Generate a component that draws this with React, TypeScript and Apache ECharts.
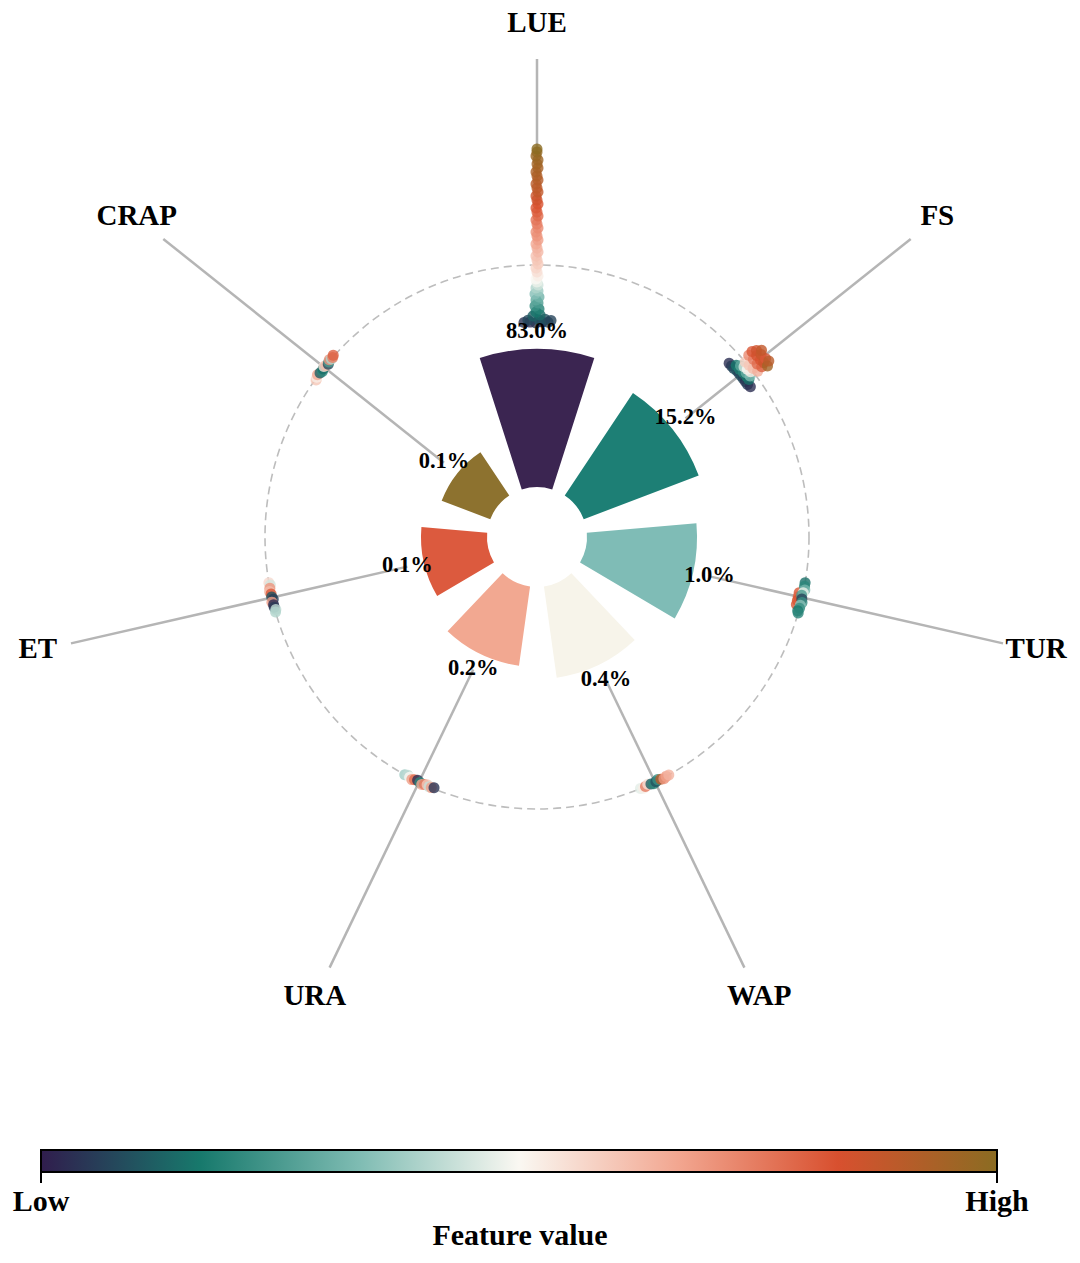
import React, { useEffect, useRef } from "react";
import * as echarts from "echarts";

// ---------------- data ----------------
const CATEGORIES = ["LUE", "FS", "TUR", "WAP", "URA", "ET", "CRAP"];
// radial bar lengths (display units, measured from the inner hole)
const BAR_LENGTHS = [138, 123, 110, 92, 80, 66, 52];
const PCT_LABELS = ["83.0%", "15.2%", "1.0%", "0.4%", "0.2%", "0.1%", "0.1%"];
const BAR_COLORS = ["#3b2551", "#1d7f75", "#7fbcb6", "#f7f4ea", "#f2a891", "#dc5a3e", "#8d722f"];
const CMAP = ["#301d4d", "#17796c", "#7fbcb3", "#faf8f2", "#f2a690", "#d8502f", "#8b6c22"];

// swarm points: [radial SHAP offset, feature value (0..1), tangential jitter]
const SWARM_LUE = [
  [-57, 0.04, -13], [-57, 0.02, -7], [-58, 0.05, -1], [-57, 0.03, 5], [-57, 0.06, 11],
  [-55, 0.08, -9], [-55, 0.1, 2], [-54, 0.09, 8], [-55, 0.07, 14],
  [-51, 0.12, -4], [-50, 0.14, 3], [-47, 0.16, -1], [-44, 0.19, 2], [-41, 0.22, -2],
  [-38, 0.25, 1], [-35, 0.28, -1], [-32, 0.31, 2], [-29, 0.34, -2], [-26, 0.37, 1],
  [-23, 0.4, -1], [-20, 0.44, 1], [-17, 0.48, 0], [-14, 0.5, -1], [-11, 0.52, 1],
  [-7, 0.55, 0], [-3, 0.57, -1], [1, 0.59, 1], [5, 0.6, 0], [9, 0.61, -1], [13, 0.63, 1],
  [17, 0.64, 0], [21, 0.66, -1], [25, 0.68, 1], [29, 0.7, 0], [33, 0.71, -1], [37, 0.72, 1],
  [41, 0.74, 0], [45, 0.76, -1], [49, 0.78, 1], [53, 0.8, 0], [57, 0.82, -1], [61, 0.83, 1],
  [65, 0.85, 0], [69, 0.86, -1], [73, 0.88, 1], [77, 0.89, 0], [81, 0.9, -1], [85, 0.91, 1],
  [89, 0.92, 0], [93, 0.93, -1], [97, 0.94, 1], [101, 0.95, 0], [105, 0.96, 1],
  [109, 0.97, -1], [113, 0.98, 0], [116, 1.0, 0],
];
const SWARM_FS = [
  [-13, 0.03, -16], [-13, 0.05, -12.5], [-13, 0.08, -9], [-12, 0.1, -5.5], [-12, 0.06, -2],
  [-12, 0.09, 1.5], [-12, 0.07, 5], [-12, 0.04, 8.5], [-12, 0.06, 12], [-11, 0.03, 15.5],
  [-9, 0.16, -10], [-9, 0.18, -5], [-8, 0.2, 0], [-8, 0.17, 5], [-8, 0.15, 9],
  [-6, 0.28, -7], [-6, 0.3, 2], [-5, 0.33, 7],
  [-4, 0.45, -4], [-3, 0.5, 0], [-2, 0.52, 4],
  [0, 0.58, -7], [1, 0.6, -2], [2, 0.62, 3], [4, 0.65, 8],
  [7, 0.72, -10], [8, 0.75, -4], [8, 0.78, 2], [10, 0.8, 7], [12, 0.82, -11],
  [13, 0.84, -5], [13, 0.83, 1], [14, 0.86, 5], [16, 0.85, -9], [17, 0.87, -3],
  [18, 0.82, 3], [15, 0.95, 10], [19, 0.9, 7], [20, 0.88, -6],
];
const SWARM_TUR = [
  [-4, 0.82, -4], [-4, 0.8, 0], [-4, 0.84, 4], [-4, 0.82, 8],
  [0, 0.15, -15], [0, 0.2, -11.5], [1, 0.32, -8], [0, 0.48, -5], [-1, 0.25, -2],
  [0, 0.07, 1.5], [1, 0.22, 5], [0, 0.35, 8], [0, 0.22, 11], [-1, 0.17, 14], [0, 0.2, 16],
];
const SWARM_WAP = [
  [0, 0.47, 16], [1, 0.52, 13], [0, 0.75, 10.5], [-1, 0.55, 7.5], [0, 0.12, 4.5],
  [1, 0.2, 2], [0, 0.1, -1], [-1, 0.22, -3.5], [0, 0.9, -6.5], [1, 0.7, -9.5],
  [0, 0.68, -12.5], [0, 0.64, -15.5],
];
const SWARM_URA = [
  [0, 0.38, 16], [-1, 0.42, 13], [0, 0.5, 10.5], [1, 0.68, 7.5], [0, 0.78, 5],
  [-1, 0.03, 2], [0, 0.2, -1], [1, 0.66, -3.5], [0, 0.75, -6], [-1, 0.6, -8.5],
  [0, 0.43, -11], [0, 0.68, -13.5], [-1, 0.04, -16],
];
const SWARM_ET = [
  [0, 0.56, 15], [-1, 0.45, 12.5], [0, 0.7, 9.5], [1, 0.62, 6.5], [0, 0.82, 3.5],
  [0, 0.1, 0.5], [-1, 0.06, -2], [1, 0.68, -4.5], [0, 0.03, -7.5], [0, 0.05, -10],
  [-1, 0.42, -12.5], [0, 0.4, -15],
];
const SWARM_CRAP = [
  [-1, 0.6, -15], [0, 0.52, -12.5], [1, 0.66, -10], [0, 0.12, -7], [-1, 0.2, -4.5],
  [0, 0.15, -2], [1, 0.55, 0.5], [0, 0.62, 2.5], [-1, 0.08, 5], [0, 0.25, 7],
  [1, 0.7, 9], [0, 0.4, 11], [0, 0.74, 13], [1, 0.8, 15],
];
const SWARMS = [SWARM_LUE, SWARM_FS, SWARM_TUR, SWARM_WAP, SWARM_URA, SWARM_ET, SWARM_CRAP];

// ---------------- layout ----------------
const W = 1080;
const H = 1263;
const CENTER = [537, 537];
const INNER_R = 50;
const OUTER_R = 520;
const BASE_R = 272;
const SPOKE_END = 478;
const LABEL_R = 512;
const PCT_GAP = 17;
const N = CATEGORIES.length;
const START = 90 + 180 / N;
const FONT = "'Liberation Serif', 'Times New Roman', serif";

export default function App() {
  const ref = useRef<HTMLDivElement>(null);

  useEffect(() => {
    document.body.style.margin = "0";
    if (!ref.current) return;
    const chart = echarts.init(ref.current, null, { renderer: "svg" });

    const series: any[] = [];
    series.push({
      type: "bar",
      coordinateSystem: "polar",
      polarIndex: 0,
      barWidth: "69%",
      data: BAR_LENGTHS.map((v, i) => ({ value: v, itemStyle: { color: BAR_COLORS[i] } })),
      silent: true,
      z: 2,
    });
    // spokes
    CATEGORIES.forEach((c, i) => {
      series.push({
        type: "line",
        coordinateSystem: "polar",
        polarIndex: 1,
        symbol: "none",
        silent: true,
        lineStyle: { color: "#b5b5b5", width: 2.5 },
        data: [
          [INNER_R + BAR_LENGTHS[i] + PCT_GAP, i + 0.5],
          [SPOKE_END, i + 0.5],
        ],
        z: 3,
      });
    });
    // swarms
    const swarmIdx: number[] = [];
    SWARMS.forEach((pts, i) => {
      swarmIdx.push(series.length);
      series.push({
        type: "scatter",
        coordinateSystem: "polar",
        polarIndex: 1,
        symbolSize: 11,
        silent: true,
        data: pts.map(([off, fv, jit]) => {
          const r = BASE_R + off;
          return [r, i + 0.5 + (jit / r) * (N / (2 * Math.PI)), fv];
        }),
        z: 4,
      });
    });

    // text labels drawn through the polar coordinate system
    const textSeries = (texts: string[], radii: number[], size: number, dy: number) => ({
      type: "custom",
      coordinateSystem: "polar",
      polarIndex: 1,
      silent: true,
      z: 6,
      data: texts.map((t, i) => [radii[i], i + 0.5]),
      renderItem: (params: any, api: any) => {
        const pt = api.coord([api.value(0), api.value(1)]);
        return {
          type: "text",
          x: pt[0],
          y: pt[1] + dy,
          style: {
            text: texts[params.dataIndex],
            fill: "#000",
            fontSize: size,
            fontWeight: "bold",
            fontFamily: FONT,
            align: "center",
            verticalAlign: "middle",
          },
        };
      },
    });
    series.push(
      textSeries(
        PCT_LABELS,
        BAR_LENGTHS.map((v) => INNER_R + v + PCT_GAP),
        22.5,
        -2
      )
    );
    series.push(
      textSeries(
        CATEGORIES,
        CATEGORIES.map(() => LABEL_R),
        29,
        -3
      )
    );

    const stops = CMAP.map((c, i) => ({ offset: i / (CMAP.length - 1), color: c }));
    const cbX0 = 41;
    const cbX1 = 997;
    const cbY = 1150;
    const cbH = 22;
    const txt = (text: string, x: number, y: number) => ({
      type: "text",
      x,
      y,
      silent: true,
      style: {
        text,
        fill: "#000",
        fontSize: 30,
        fontWeight: "bold",
        fontFamily: FONT,
        align: "center",
        verticalAlign: "middle",
      },
    });

    chart.setOption({
      animation: false,
      backgroundColor: "#fff",
      polar: [
        { center: CENTER, radius: [INNER_R, OUTER_R] },
        { center: CENTER, radius: [0, OUTER_R] },
        { center: CENTER, radius: [0, BASE_R] },
      ],
      angleAxis: [
        { polarIndex: 0, type: "category", data: CATEGORIES, startAngle: START, show: false },
        { polarIndex: 1, type: "value", min: 0, max: N, startAngle: START, show: false },
        {
          polarIndex: 2,
          type: "value",
          min: 0,
          max: 1,
          startAngle: START,
          axisLine: { show: true, lineStyle: { color: "#bdbdbd", width: 1.6, type: [8, 5] } },
          axisTick: { show: false },
          axisLabel: { show: false },
          splitLine: { show: false },
        },
      ],
      radiusAxis: [
        { polarIndex: 0, type: "value", min: 0, max: OUTER_R - INNER_R, show: false },
        { polarIndex: 1, type: "value", min: 0, max: OUTER_R, show: false },
        { polarIndex: 2, type: "value", min: 0, max: 1, show: false },
      ],
      visualMap: {
        type: "continuous",
        show: false,
        min: 0,
        max: 1,
        dimension: 2,
        seriesIndex: swarmIdx,
        inRange: { color: CMAP },
      },
      series,
      graphic: [
        {
          type: "rect",
          shape: { x: cbX0, y: cbY, width: cbX1 - cbX0, height: cbH },
          style: {
            fill: new echarts.graphic.LinearGradient(0, 0, 1, 0, stops),
            stroke: "#000",
            lineWidth: 2,
          },
          silent: true,
        },
        {
          type: "line",
          shape: { x1: cbX0, y1: cbY + cbH, x2: cbX0, y2: cbY + cbH + 11 },
          style: { stroke: "#000", lineWidth: 2 },
          silent: true,
        },
        {
          type: "line",
          shape: { x1: cbX1, y1: cbY + cbH, x2: cbX1, y2: cbY + cbH + 11 },
          style: { stroke: "#000", lineWidth: 2 },
          silent: true,
        },
        txt("Low", cbX0, 1200),
        txt("High", cbX1, 1200),
        txt("Feature value", 520, 1234),
      ],
    });

    return () => chart.dispose();
  }, []);

  return <div ref={ref} style={{ width: W, height: H }} />;
}
